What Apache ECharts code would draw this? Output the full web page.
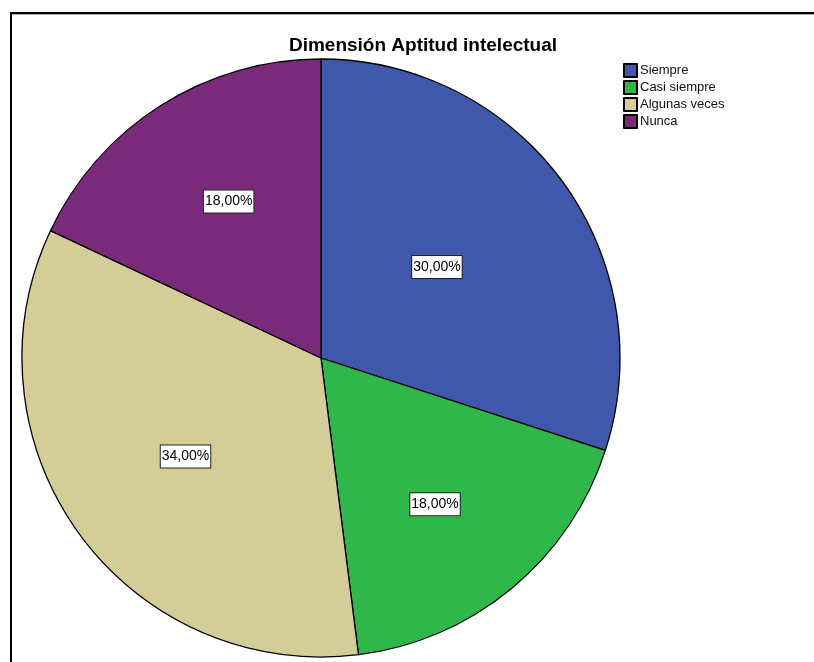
<!DOCTYPE html>
<html>
<head>
<meta charset="utf-8">
<script src="https://cdn.jsdelivr.net/npm/echarts@6/dist/echarts.min.js"></script>
<style>
html,body{margin:0;padding:0;background:#fff;}
#c{width:814px;height:662px;}
</style>
</head>
<body>
<div id="c"></div>
<script>
const title = 'Dimensión Aptitud intelectual';
const categories = ['Siempre', 'Casi siempre', 'Algunas veces', 'Nunca'];
const values = [30, 18, 34, 18];
const colors = ['#3f58ab', '#2fb74a', '#d4cd98', '#7a2a7b'];

const labelScale = [0.98, 1.25, 1.1, 1.22];
const total = values.reduce((a, b) => a + b, 0);
const mids = [];
let acc = 0;
values.forEach(v => { mids.push((acc + v / 2) / total * 2 * Math.PI); acc += v; });

const chart = echarts.init(document.getElementById('c'));
const R = 299;
chart.setOption({
  animation: false,
  title: {
    text: title, left: 418, top: 31, textAlign: 'center',
    textStyle: { fontFamily: 'Liberation Sans, Arial', fontSize: 19, fontWeight: 'bold', color: '#000' }
  },
  legend: {
    orient: 'vertical', left: 623, top: 63, padding: 0,
    itemWidth: 13, itemHeight: 13, itemGap: 2, icon: 'rect',
    textStyle: { fontFamily: 'Liberation Sans, Arial', fontSize: 13, lineHeight: 13, color: '#111', padding: [0, 0, 0, -2] },
    data: categories
  },
  graphic: [
    { type: 'line', shape: { x1: 11, y1: 13, x2: 814, y2: 13 }, style: { stroke: '#000', lineWidth: 2 } },
    { type: 'line', shape: { x1: 12, y1: 14.5, x2: 814, y2: 14.5 }, style: { stroke: '#aaa', lineWidth: 1 } },
    { type: 'line', shape: { x1: 11, y1: 12, x2: 11, y2: 662 }, style: { stroke: '#000', lineWidth: 2 } }
  ],
  series: [{
    type: 'pie',
    center: [321, 358],
    radius: [0, R],
    startAngle: 90,
    clockwise: true,
    silent: true,
    itemStyle: { borderColor: '#000', borderWidth: 1.3 },
    label: {
      show: true, position: 'inside',
      formatter: p => p.value.toFixed(2).replace('.', ',') + '%',
      fontFamily: 'Liberation Sans, Arial', fontSize: 14, color: '#000',
      backgroundColor: '#fff', borderColor: '#222', borderWidth: 1,
      padding: [5, 1, 3, 1]
    },
    labelLayout: function (p) {
      const i = p.dataIndex;
      const base = R / 2;
      const d = base * (labelScale[i] - 1);
      return { dx: d * Math.sin(mids[i]) - (i === 0 ? 5 : 0) + (i === 3 ? 7 : 0) - (i === 1 ? 7 : 0), dy: -d * Math.cos(mids[i]) - (i === 0 ? 3 : 0) };
    },
    data: categories.map((c, i) => ({ name: c, value: values[i], itemStyle: { color: colors[i] } }))
  }]
});
</script>
</body>
</html>
